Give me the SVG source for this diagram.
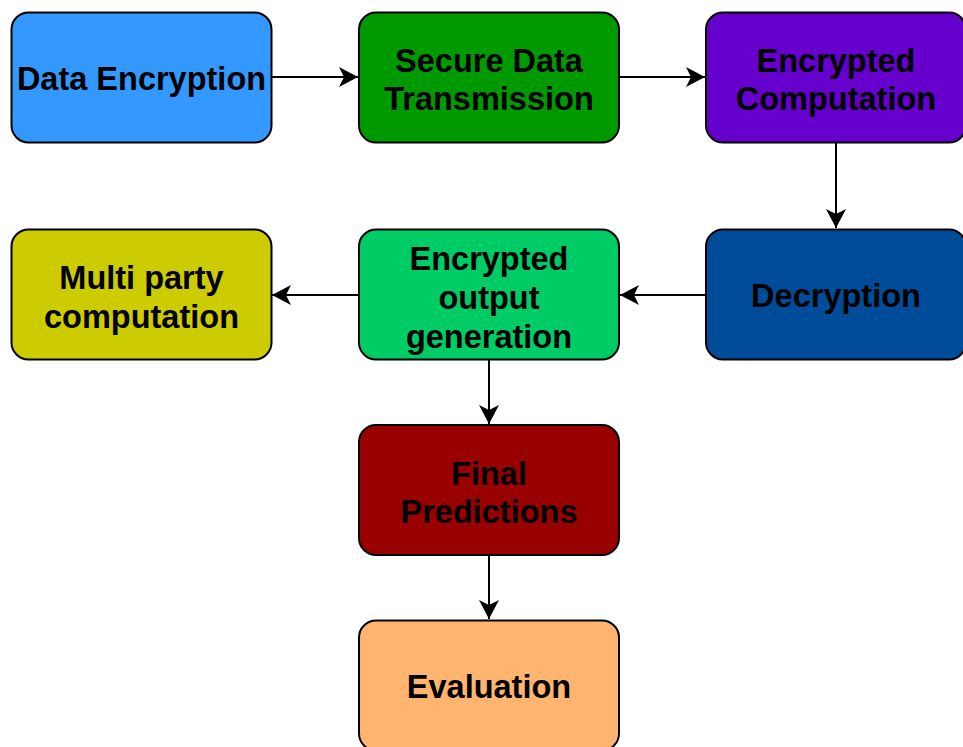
<svg xmlns="http://www.w3.org/2000/svg" width="963" height="747" viewBox="0 0 963 747">
<defs>
<style>
.box{stroke:#000;stroke-width:2}
.lbl{font-family:"Liberation Sans",Arial,sans-serif;font-weight:bold;font-size:32.5px;fill:#000;text-anchor:middle}
.edge{fill:none;stroke:#000;stroke-width:2}
</style>
<marker id="arr" markerUnits="userSpaceOnUse" markerWidth="22" markerHeight="22" refX="19" refY="10" orient="auto">
<path d="M0,0 L19,10 L0,20 L5,10 Z" fill="#000"/>
</marker>
</defs>
<rect width="963" height="747" fill="#fff"/>
<g id="connectors">
<path class="edge" d="M271,77 L358,77" marker-end="url(#arr)"/>
<path class="edge" d="M619,77 L705,77" marker-end="url(#arr)"/>
<path class="edge" d="M836,143 L836,228" marker-end="url(#arr)"/>
<path class="edge" d="M706,295 L620,295" marker-end="url(#arr)"/>
<path class="edge" d="M359,295 L272,295" marker-end="url(#arr)"/>
<path class="edge" d="M489,360 L489,424" marker-end="url(#arr)"/>
<path class="edge" d="M489,555 L489,619" marker-end="url(#arr)"/>
</g>
<g id="data-encryption">
<rect class="box" x="11.5" y="12.5" width="260" height="130" rx="17" fill="#3399FF"/>
<text class="lbl" x="141.5" y="89.5">Data Encryption</text>
</g>
<g id="secure-data-transmission">
<rect class="box" x="359" y="12.5" width="260" height="130" rx="17" fill="#009900"/>
<text class="lbl" x="489" y="71.5">Secure Data</text>
<text class="lbl" x="489" y="110">Transmission</text>
</g>
<g id="encrypted-computation">
<rect class="box" x="706" y="12.5" width="260" height="130" rx="17" fill="#6600CC"/>
<text class="lbl" x="836" y="71.5">Encrypted</text>
<text class="lbl" x="836" y="110">Computation</text>
</g>
<g id="multi-party-computation">
<rect class="box" x="11.5" y="229.5" width="260" height="130" rx="17" fill="#CCCC00"/>
<text class="lbl" x="141.5" y="289">Multi party</text>
<text class="lbl" x="141.5" y="327.5">computation</text>
</g>
<g id="encrypted-output-generation">
<rect class="box" x="359" y="229.5" width="260" height="130" rx="17" fill="#00CC66"/>
<text class="lbl" x="489" y="269.5">Encrypted</text>
<text class="lbl" x="489" y="308.5">output</text>
<text class="lbl" x="489" y="347.5">generation</text>
</g>
<g id="decryption">
<rect class="box" x="706" y="229.5" width="260" height="130" rx="17" fill="#004C99"/>
<text class="lbl" x="836" y="306.5">Decryption</text>
</g>
<g id="final-predictions">
<rect class="box" x="359" y="425" width="260" height="130" rx="17" fill="#990000"/>
<text class="lbl" x="489" y="484.5">Final</text>
<text class="lbl" x="489" y="523">Predictions</text>
</g>
<g id="evaluation">
<rect class="box" x="359" y="620.5" width="260" height="130" rx="17" fill="#FFB570"/>
<text class="lbl" x="489" y="697.5">Evaluation</text>
</g>
</svg>
